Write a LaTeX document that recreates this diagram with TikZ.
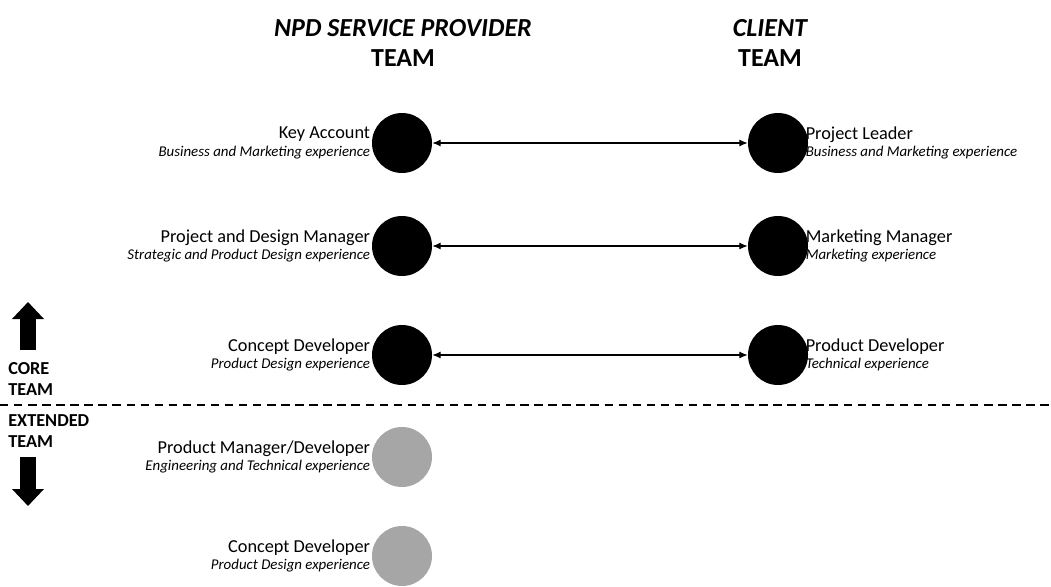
\documentclass[tikz,border=0pt]{standalone}
\usepackage{fontspec}
\setmainfont{Carlito}
\usetikzlibrary{positioning,arrows.meta}

\tikzset{
  member/.style={draw=none, circle, fill=black, minimum size=1.5cm, inner sep=0pt},
  extmember/.style={member, fill=black!35},
  role/.style={align=right, inner sep=1pt, font=\fontsize{13}{15}\selectfont},
  crole/.style={align=left, inner sep=1pt, font=\fontsize{13}{15}\selectfont},
  head/.style={font=\fontsize{18.5}{21}\selectfont\bfseries},
  side/.style={align=left, inner sep=0pt, font=\fontsize{13}{15.5}\selectfont\bfseries},
  link/.style={{Latex[length=6pt,width=5pt]}-{Latex[length=6pt,width=5pt]}, line width=0.8pt},
  bigarrow/.style={-{Triangle[length=0.425cm,width=0.775cm]}, line width=0.4cm}
}
\newcommand{\xp}[1]{\\[-2.5pt]{\fontsize{10.6}{12}\selectfont\itshape #1}}

\begin{document}
\begin{tikzpicture}
\useasboundingbox (0,0) rectangle (26.275,14.65);

% Headers
\node[head] (nsp) at (10.075,13.95) {\itshape NPD SERVICE PROVIDER};
\node[head] (nspteam) at (10.075,13.2) {TEAM};
\node[head] (cli) at (19.25,13.95) {\itshape CLIENT};
\node[head] (cliteam) at (19.25,13.2) {TEAM};

% Provider team
\node[member] (ka) at (10.05,11.075) {};
\node[member] (pdm) at (10.05,8.5) {};
\node[member] (cd) at (10.05,5.775) {};
\node[extmember] (pmd) at (10.05,3.225) {};
\node[extmember] (cd2) at (10.05,0.75) {};

\node[role, left=0pt of ka] (kaL) {Key Account\xp{Business and Marketing experience}};
\node[role, left=0pt of pdm] (pdmL) {Project and Design Manager\xp{Strategic and Product Design experience}};
\node[role, left=0pt of cd] (cdL) {Concept Developer\xp{Product Design experience}};
\node[role, left=0pt of pmd] (pmdL) {Product Manager/Developer\xp{Engineering and Technical experience}};
\node[role, left=0pt of cd2] (cd2L) {Concept Developer\xp{Product Design experience}};

% Client team
\node[member] (pl) at (19.45,11.075) {};
\node[member] (mm) at (19.45,8.5) {};
\node[member] (pd) at (19.45,5.775) {};

\node[crole, right=-3pt of pl] (plL) {Project Leader\xp{Business and Marketing experience}};
\node[crole, right=-3pt of mm] (mmL) {Marketing Manager\xp{Marketing experience}};
\node[crole, right=-3pt of pd] (pdL) {Product Developer\xp{Technical experience}};

% Links
\draw[link] (ka) -- (pl);
\draw[link] (pdm) -- (mm);
\draw[link] (cd) -- (pd);

% Core / extended split
\coordinate (sepL) at (0,4.525);
\coordinate (sepR) at (26.275,4.525);
\draw[line width=0.8pt, dash pattern=on 6pt off 4pt] (sepL) -- (sepR);

\node[side, anchor=west] (core) at (0.2,5.175) {CORE\\TEAM};
\node[side, anchor=west] (ext) at (0.2,3.875) {EXTENDED\\TEAM};

\coordinate (upS) at (0.7,5.9);
\coordinate (upE) at (0.7,7.1);
\coordinate (dnS) at (0.7,3.225);
\coordinate (dnE) at (0.7,2.0);
\draw[bigarrow] (upS) -- (upE);
\draw[bigarrow] (dnS) -- (dnE);

\end{tikzpicture}
\end{document}
